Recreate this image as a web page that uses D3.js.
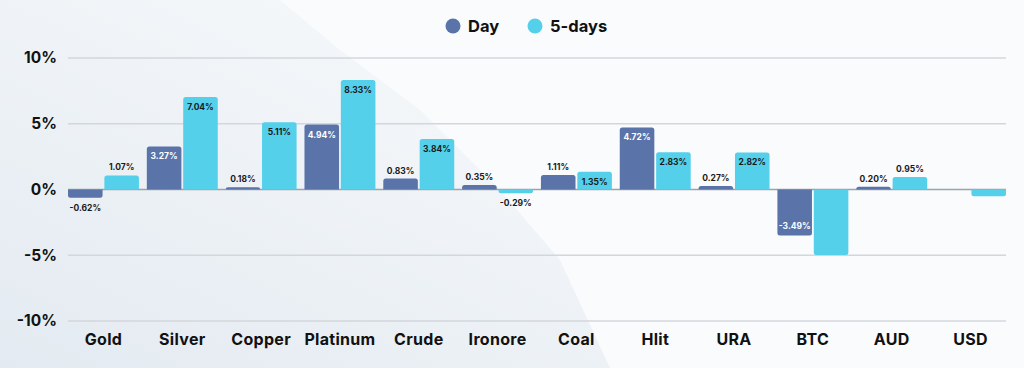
<!DOCTYPE html>
<html>
<head>
<meta charset="utf-8">
<script src="https://cdn.jsdelivr.net/npm/d3@7"></script>
<style>
  html, body { margin: 0; padding: 0; background: #f9fbfd; }
  svg { display: block; font-family: Inter, "DejaVu Sans", sans-serif; }
</style>
</head>
<body>
<svg id="chart" width="1024" height="368"></svg>
<script>
// data
var categories = ['Gold', 'Silver', 'Copper', 'Platinum', 'Crude', 'Ironore', 'Coal', 'Hlit', 'URA', 'BTC', 'AUD', 'USD'];
var dayValues = [-0.62, 3.27, 0.18, 4.94, 0.83, 0.35, 1.11, 4.72, 0.27, -3.49, 0.20, 0];
var fiveDayValues = [1.07, 7.04, 5.11, 8.33, 3.84, -0.29, 1.35, 2.83, 2.82, -4.98, 0.95, -0.52];
var seriesNames = ['Day', '5-days'];
var yTicks = [-10, -5, 0, 5, 10];
// 5-days bars that carry no value label in the original
var noLabel5d = ['BTC', 'USD'];

var svg = d3.select('#chart'),
    width = +svg.attr('width'),
    height = +svg.attr('height');

var colors = { 'Day': '#5a73a9', '5-days': '#54d0eb' };

// background wash
var defs = svg.append('defs');
var grad = defs.append('linearGradient').attr('id', 'bg').attr('x1', 0).attr('y1', 1).attr('x2', 0.8).attr('y2', 0);
grad.append('stop').attr('offset', '0%').attr('stop-color', '#e3eaf1');
grad.append('stop').attr('offset', '100%').attr('stop-color', '#f7f9fb');
svg.append('rect').attr('width', width).attr('height', height).attr('fill', '#f9fbfd');
svg.append('path')
    .attr('d', 'M0,0 L280,0 L340,50 L420,110 L500,190 L560,260 L610,368 L0,368 Z')
    .attr('fill', 'url(#bg)');

var x0 = d3.scaleBand().domain(categories).range([68, 1006]).paddingInner(0.1).paddingOuter(0);
var x1 = d3.scaleBand().domain(seriesNames).range([0, x0.bandwidth()]).paddingInner(0.05);
var y = d3.scaleLinear().domain([-10, 10]).range([321, 58]);

// grid
svg.append('g').selectAll('line')
    .data(yTicks)
    .enter().append('line')
    .attr('x1', 68).attr('x2', 1006)
    .attr('y1', d => y(d)).attr('y2', d => y(d))
    .attr('stroke', d => d === 0 ? '#9da3aa' : '#d3d7dc')
    .attr('stroke-width', 1.5);

// y axis labels
var yAxis = d3.axisLeft(y).tickValues(yTicks).tickFormat(d => d + '%').tickSize(0).tickPadding(0);
var yg = svg.append('g').attr('transform', 'translate(57,0)').call(yAxis);
yg.select('.domain').remove();
yg.selectAll('text')
    .attr('font-family', 'Inter, sans-serif')
    .attr('font-size', 15.5).attr('font-weight', 700).attr('fill', '#111');

// x axis labels
var xAxis = d3.axisBottom(x0).tickSize(0).tickPadding(0);
var xg = svg.append('g').attr('transform', 'translate(0,334)').call(xAxis);
xg.select('.domain').remove();
xg.selectAll('text')
    .attr('font-family', 'Inter, sans-serif')
    .attr('font-size', 16).attr('font-weight', 700).attr('fill', '#111')
    .attr('letter-spacing', 0.3);

// bars
var rows = [];
categories.forEach((c, i) => {
    rows.push({ cat: c, series: 'Day', v: dayValues[i] });
    rows.push({ cat: c, series: '5-days', v: fiveDayValues[i] });
});

function barPath(d) {
    var x = x0(d.cat) + x1(d.series), w = x1.bandwidth();
    var y0 = y(0), yv = y(d.v), r = Math.min(2.5, Math.abs(y0 - yv));
    if (d.v >= 0) {
        return 'M' + x + ',' + y0 + 'V' + (yv + r) + 'Q' + x + ',' + yv + ' ' + (x + r) + ',' + yv +
            'H' + (x + w - r) + 'Q' + (x + w) + ',' + yv + ' ' + (x + w) + ',' + (yv + r) + 'V' + y0 + 'Z';
    }
    return 'M' + x + ',' + y0 + 'V' + (yv - r) + 'Q' + x + ',' + yv + ' ' + (x + r) + ',' + yv +
        'H' + (x + w - r) + 'Q' + (x + w) + ',' + yv + ' ' + (x + w) + ',' + (yv - r) + 'V' + y0 + 'Z';
}

svg.append('g').selectAll('path')
    .data(rows.filter(d => d.v !== 0))
    .enter().append('path')
    .attr('d', barPath)
    .attr('fill', d => colors[d.series]);

// value labels
var labelled = rows.filter(d => d.v !== 0 && !(d.series === '5-days' && noLabel5d.includes(d.cat)));
svg.append('g').selectAll('text')
    .data(labelled)
    .enter().append('text')
    .attr('x', d => x0(d.cat) + x1(d.series) + x1.bandwidth() / 2)
    .attr('y', d => {
        var inside = Math.abs(d.v) >= 1.3;
        if (d.v >= 0) return inside ? y(d.v) + 13 : y(d.v) - 5;
        return inside ? y(d.v) - 6 : y(d.v) + 13;
    })
    .attr('text-anchor', 'middle')
    .attr('font-size', 8.5).attr('font-weight', 700)
    .attr('fill', d => (Math.abs(d.v) >= 1.3 && d.series === 'Day') ? '#fff' : '#1a1a1a')
    .text(d => d.v.toFixed(2) + '%');

// legend
var legend = svg.append('g').selectAll('g')
    .data(seriesNames)
    .enter().append('g')
    .attr('transform', (d, i) => 'translate(' + (453 + i * 82) + ',26)');
legend.append('circle').attr('r', 7.5).attr('fill', d => colors[d]);
legend.append('text')
    .attr('x', 15).attr('y', 6)
    .attr('font-size', 16.5).attr('font-weight', 700).attr('fill', '#111')
    .text(d => d);
</script>
</body>
</html>
